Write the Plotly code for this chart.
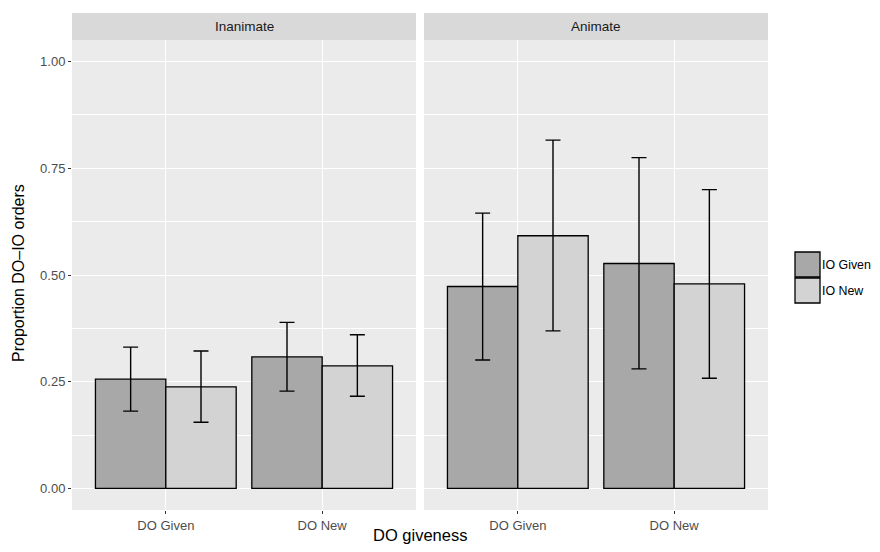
import plotly.graph_objects as go

# ---- data ----
panels = ["Inanimate", "Animate"]
do_levels = ["DO Given", "DO New"]
series_names = ["IO Given", "IO New"]
series_colors = ["#A8A8A8", "#D3D3D3"]

# means per panel, per series (order of do_levels)
inan_io_given = [0.256, 0.308]
inan_io_new = [0.238, 0.287]
anim_io_given = [0.473, 0.527]
anim_io_new = [0.592, 0.479]

# confidence limits
inan_io_given_lo = [0.181, 0.228]
inan_io_given_hi = [0.331, 0.389]
inan_io_new_lo = [0.155, 0.216]
inan_io_new_hi = [0.322, 0.360]
anim_io_given_lo = [0.301, 0.280]
anim_io_given_hi = [0.645, 0.775]
anim_io_new_lo = [0.369, 0.258]
anim_io_new_hi = [0.816, 0.700]

y_tickvals = [0, 0.25, 0.5, 0.75, 1.0]

# page body has an 8px margin: figure occupies screen pixels 8..872 / 8..544
OFF = 8
W, H = 864, 536
panel_px = [(72, 416), (424, 768)]
top_px, bot_px = 40, 510
strip_top = 13
FONT = "Liberation Sans, Arial, Helvetica"


def px_x(v):
    return (v - OFF) / W


def px_y(v):
    return 1 - (v - OFF) / H


fig = go.Figure()

data_sets = [
    [(inan_io_given, inan_io_given_lo, inan_io_given_hi),
     (inan_io_new, inan_io_new_lo, inan_io_new_hi)],
    [(anim_io_given, anim_io_given_lo, anim_io_given_hi),
     (anim_io_new, anim_io_new_lo, anim_io_new_hi)],
]

for p, sets in enumerate(data_sets):
    xa = "x" if p == 0 else "x2"
    ya = "y" if p == 0 else "y2"
    for s, (vals, lo, hi) in enumerate(sets):
        fig.add_trace(go.Bar(
            x=do_levels, y=vals, name=series_names[s],
            marker=dict(color=series_colors[s], line=dict(color="black", width=1.3)),
            error_y=dict(type="data", symmetric=False,
                         array=[h - v for h, v in zip(hi, vals)],
                         arrayminus=[v - l for v, l in zip(vals, lo)],
                         color="black", thickness=1.4, width=7.5),
            xaxis=xa, yaxis=ya, showlegend=False, offsetgroup=str(s),
        ))

yrange = [-0.0506, 1.0506]
axis_common = dict(showline=False, zeroline=False, gridcolor="white", gridwidth=1.2,
                   ticks="outside", ticklen=3, tickcolor="#333333", tickwidth=1,
                   tickfont=dict(family=FONT, size=13, color="#4D4D4D"))

for p in range(2):
    sx = "" if p == 0 else "2"
    x0, x1 = panel_px[p]
    fig.layout["xaxis" + sx] = dict(
        domain=[px_x(x0), px_x(x1)], anchor="y" + sx, type="category",
        range=[-0.6, 1.6], **axis_common)
    fig.layout["yaxis" + sx] = dict(
        domain=[px_y(bot_px), px_y(top_px)], anchor="x" + sx, range=yrange,
        tickvals=y_tickvals, tickformat=".2f", showticklabels=(p == 0),
        minor=dict(dtick=0.125, tick0=0, showgrid=True, gridcolor="white", gridwidth=0.6, ticks=""),
        **axis_common)
    if p == 1:
        fig.layout["yaxis2"].ticks = ""
    # strip
    fig.add_shape(type="rect", xref="paper", yref="paper",
                  x0=px_x(x0), x1=px_x(x1), y0=px_y(top_px), y1=px_y(strip_top),
                  fillcolor="#D9D9D9", line=dict(width=0), layer="below")
    fig.add_annotation(xref="paper", yref="paper", x=px_x((x0 + x1) / 2),
                       y=px_y((top_px + strip_top) / 2), text=panels[p], showarrow=False,
                       font=dict(family=FONT, size=13.5, color="#1A1A1A"),
                       xanchor="center", yanchor="middle")

# custom legend
key_x0, key_x1 = 795, 820
key_rows = [(252, 277), (278, 303)]
for s, (k0, k1) in enumerate(key_rows):
    fig.add_shape(type="rect", xref="paper", yref="paper",
                  x0=px_x(key_x0), x1=px_x(key_x1), y0=px_y(k1), y1=px_y(k0),
                  fillcolor=series_colors[s], line=dict(color="black", width=1.3))
    fig.add_annotation(xref="paper", yref="paper", x=px_x(820), y=px_y((k0 + k1) / 2),
                       text=series_names[s], showarrow=False, xanchor="left", yanchor="middle",
                       font=dict(family=FONT, size=12.4, color="black"))

# axis titles
fig.add_annotation(xref="paper", yref="paper", x=px_x(420), y=px_y(535), text="DO giveness",
                   showarrow=False, xanchor="center", yanchor="middle",
                   font=dict(family=FONT, size=16.5, color="black"))
fig.add_annotation(xref="paper", yref="paper", x=px_x(18), y=px_y(273), text="Proportion DO\u2013IO orders",
                   showarrow=False, textangle=-90, xanchor="center", yanchor="middle",
                   font=dict(family=FONT, size=16, color="black"))

fig.update_layout(width=W, height=H, margin=dict(l=0, r=0, t=0, b=0),
                  paper_bgcolor="white", plot_bgcolor="#EBEBEB",
                  barmode="group", bargap=0.1, bargroupgap=0, showlegend=False)

fig.write_html("out.html")
